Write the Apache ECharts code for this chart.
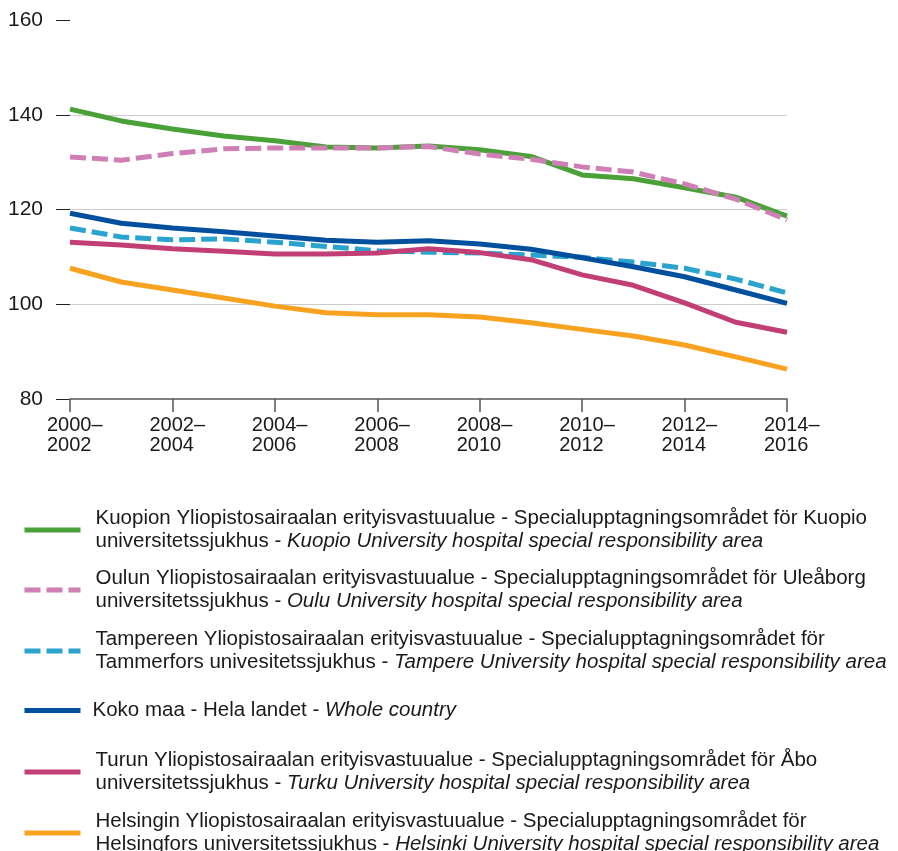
<!DOCTYPE html>
<html>
<head>
<meta charset="utf-8">
<script src="https://cdn.jsdelivr.net/npm/echarts@6/dist/echarts.min.js"></script>
<style>
  html, body { margin: 0; padding: 0; background: #fff; }
  #chart { width: 898px; height: 851px; }
</style>
</head>
<body>
<div id="chart"></div>
<script>
const categories = ['2000–2002', '2001–2003', '2002–2004', '2003–2005', '2004–2006', '2005–2007', '2006–2008',
  '2007–2009', '2008–2010', '2009–2011', '2010–2012', '2011–2013', '2012–2014', '2013–2015', '2014–2016'];

const kuopio   = [141.2, 138.7, 137.0, 135.5, 134.5, 133.2, 133.0, 133.4, 132.6, 131.2, 127.3, 126.5, 124.6, 122.6, 118.6];
const oulu     = [131.1, 130.4, 131.8, 132.8, 133.0, 133.0, 133.0, 133.3, 131.7, 130.6, 129.0, 127.9, 125.4, 122.2, 117.8];
const tampere  = [116.1, 114.2, 113.6, 113.8, 113.1, 112.2, 111.3, 111.0, 110.8, 110.4, 109.9, 108.9, 107.6, 105.3, 102.4];
const whole    = [119.2, 117.1, 116.1, 115.3, 114.4, 113.5, 113.1, 113.4, 112.7, 111.6, 109.8, 107.9, 105.8, 103.0, 100.2];
const turku    = [113.1, 112.5, 111.7, 111.2, 110.6, 110.6, 110.8, 111.7, 110.9, 109.4, 106.2, 104.0, 100.3, 96.2, 94.1];
const helsinki = [107.6, 104.7, 103.0, 101.3, 99.6, 98.2, 97.8, 97.8, 97.3, 96.1, 94.7, 93.3, 91.4, 88.9, 86.3];

const legendText = {
  Kuopio: ['Kuopion Yliopistosairaalan erityisvastuualue - Specialupptagningsområdet för Kuopio',
    'universitetssjukhus - ', 'Kuopio University hospital special responsibility area'],
  Oulu: ['Oulun Yliopistosairaalan erityisvastuualue - Specialupptagningsområdet för Uleåborg',
    'universitetssjukhus - ', 'Oulu University hospital special responsibility area'],
  Tampere: ['Tampereen Yliopistosairaalan erityisvastuualue - Specialupptagningsområdet för',
    'Tammerfors univesitetssjukhus - ', 'Tampere University hospital special responsibility area'],
  Whole: [null, 'Koko maa - Hela landet - ', 'Whole country'],
  Turku: ['Turun Yliopistosairaalan erityisvastuualue - Specialupptagningsområdet för Åbo',
    'universitetssjukhus - ', 'Turku University hospital special responsibility area'],
  Helsinki: ['Helsingin Yliopistosairaalan erityisvastuualue - Specialupptagningsområdet för',
    'Helsingfors universitetssjukhus - ', 'Helsinki University hospital special responsibility area']
};

const font = '"Liberation Sans", Arial, Helvetica, sans-serif';
let myChart = echarts.init(document.getElementById('chart'));

function line(name, data, color, dashed) {
  return {
    name: name,
    type: 'line',
    data: data,
    symbol: 'none',
    smooth: false,
    animation: false,
    lineStyle: { color: color, width: 5, type: dashed ? [16, 6] : 'solid', cap: 'butt' },
    itemStyle: { color: color }
  };
}

function legendFor(name, top) {
  return {
    data: [name],
    left: 22,
    top: top,
    padding: 0,
    orient: 'vertical',
    itemWidth: 56,
    itemHeight: 14,
    selectedMode: false,
    lineStyle: { width: 5 },
    itemStyle: { opacity: 0 },
    formatter: function (n) {
      let t = legendText[n];
      let sp = t[0] ? '{s|}' : '{k|}';
      let s = '';
      if (t[0]) s += sp + '{a|' + t[0] + '}\n';
      s += sp + '{a|' + t[1] + '}{i|' + t[2] + '}';
      return s;
    },
    textStyle: {
      rich: {
        s: { width: 10 },
        k: { width: 7 },
        a: { fontFamily: font, fontSize: 20.5, color: '#1a1a1a', lineHeight: 23 },
        i: { fontFamily: font, fontSize: 20.5, color: '#1a1a1a', lineHeight: 23, fontStyle: 'italic' }
      }
    }
  };
}

myChart.setOption({
  backgroundColor: '#fff',
  animation: false,
  grid: { left: 70, right: 111, top: 20, bottom: 452 },
  legend: [
    legendFor('Kuopio', 508),
    legendFor('Oulu', 568),
    legendFor('Tampere', 629),
    legendFor('Whole', 700),
    legendFor('Turku', 750),
    legendFor('Helsinki', 811)
  ],
  xAxis: {
    type: 'category',
    data: categories,
    boundaryGap: false,
    axisLine: { lineStyle: { color: '#555', width: 1.5 } },
    axisTick: { show: true, interval: 1, length: 13, lineStyle: { color: '#555', width: 1.5 } },
    axisLabel: {
      interval: 1,
      margin: 16,
      formatter: function (v) {
        let p = v.split('–');
        return '{a|' + p[0] + '–}\n{a|' + p[1] + '}';
      },
      rich: {
        a: { fontFamily: font, fontSize: 20, color: '#1a1a1a', lineHeight: 20, width: 46, align: 'left' }
      }
    },
    splitLine: { show: false }
  },
  yAxis: {
    type: 'value',
    min: 80,
    max: 160,
    interval: 20,
    axisLine: { show: false },
    axisTick: { show: true, inside: false, length: 14, lineStyle: { color: '#222', width: 1 } },
    axisLabel: { margin: 27, fontFamily: font, fontSize: 21, color: '#1a1a1a' },
    splitLine: { show: true, lineStyle: { color: ['transparent', '#cccccc', '#cccccc', '#cccccc', 'transparent'], width: 1 } }
  },
  series: [
    line('Tampere', tampere, '#2aa3cf', true),
    line('Kuopio', kuopio, '#4aa137', false),
    line('Oulu', oulu, '#d07fb6', true),
    line('Whole', whole, '#00509e', false),
    line('Turku', turku, '#c13f75', false),
    line('Helsinki', helsinki, '#f8a220', false)
  ]
});
</script>
</body>
</html>
